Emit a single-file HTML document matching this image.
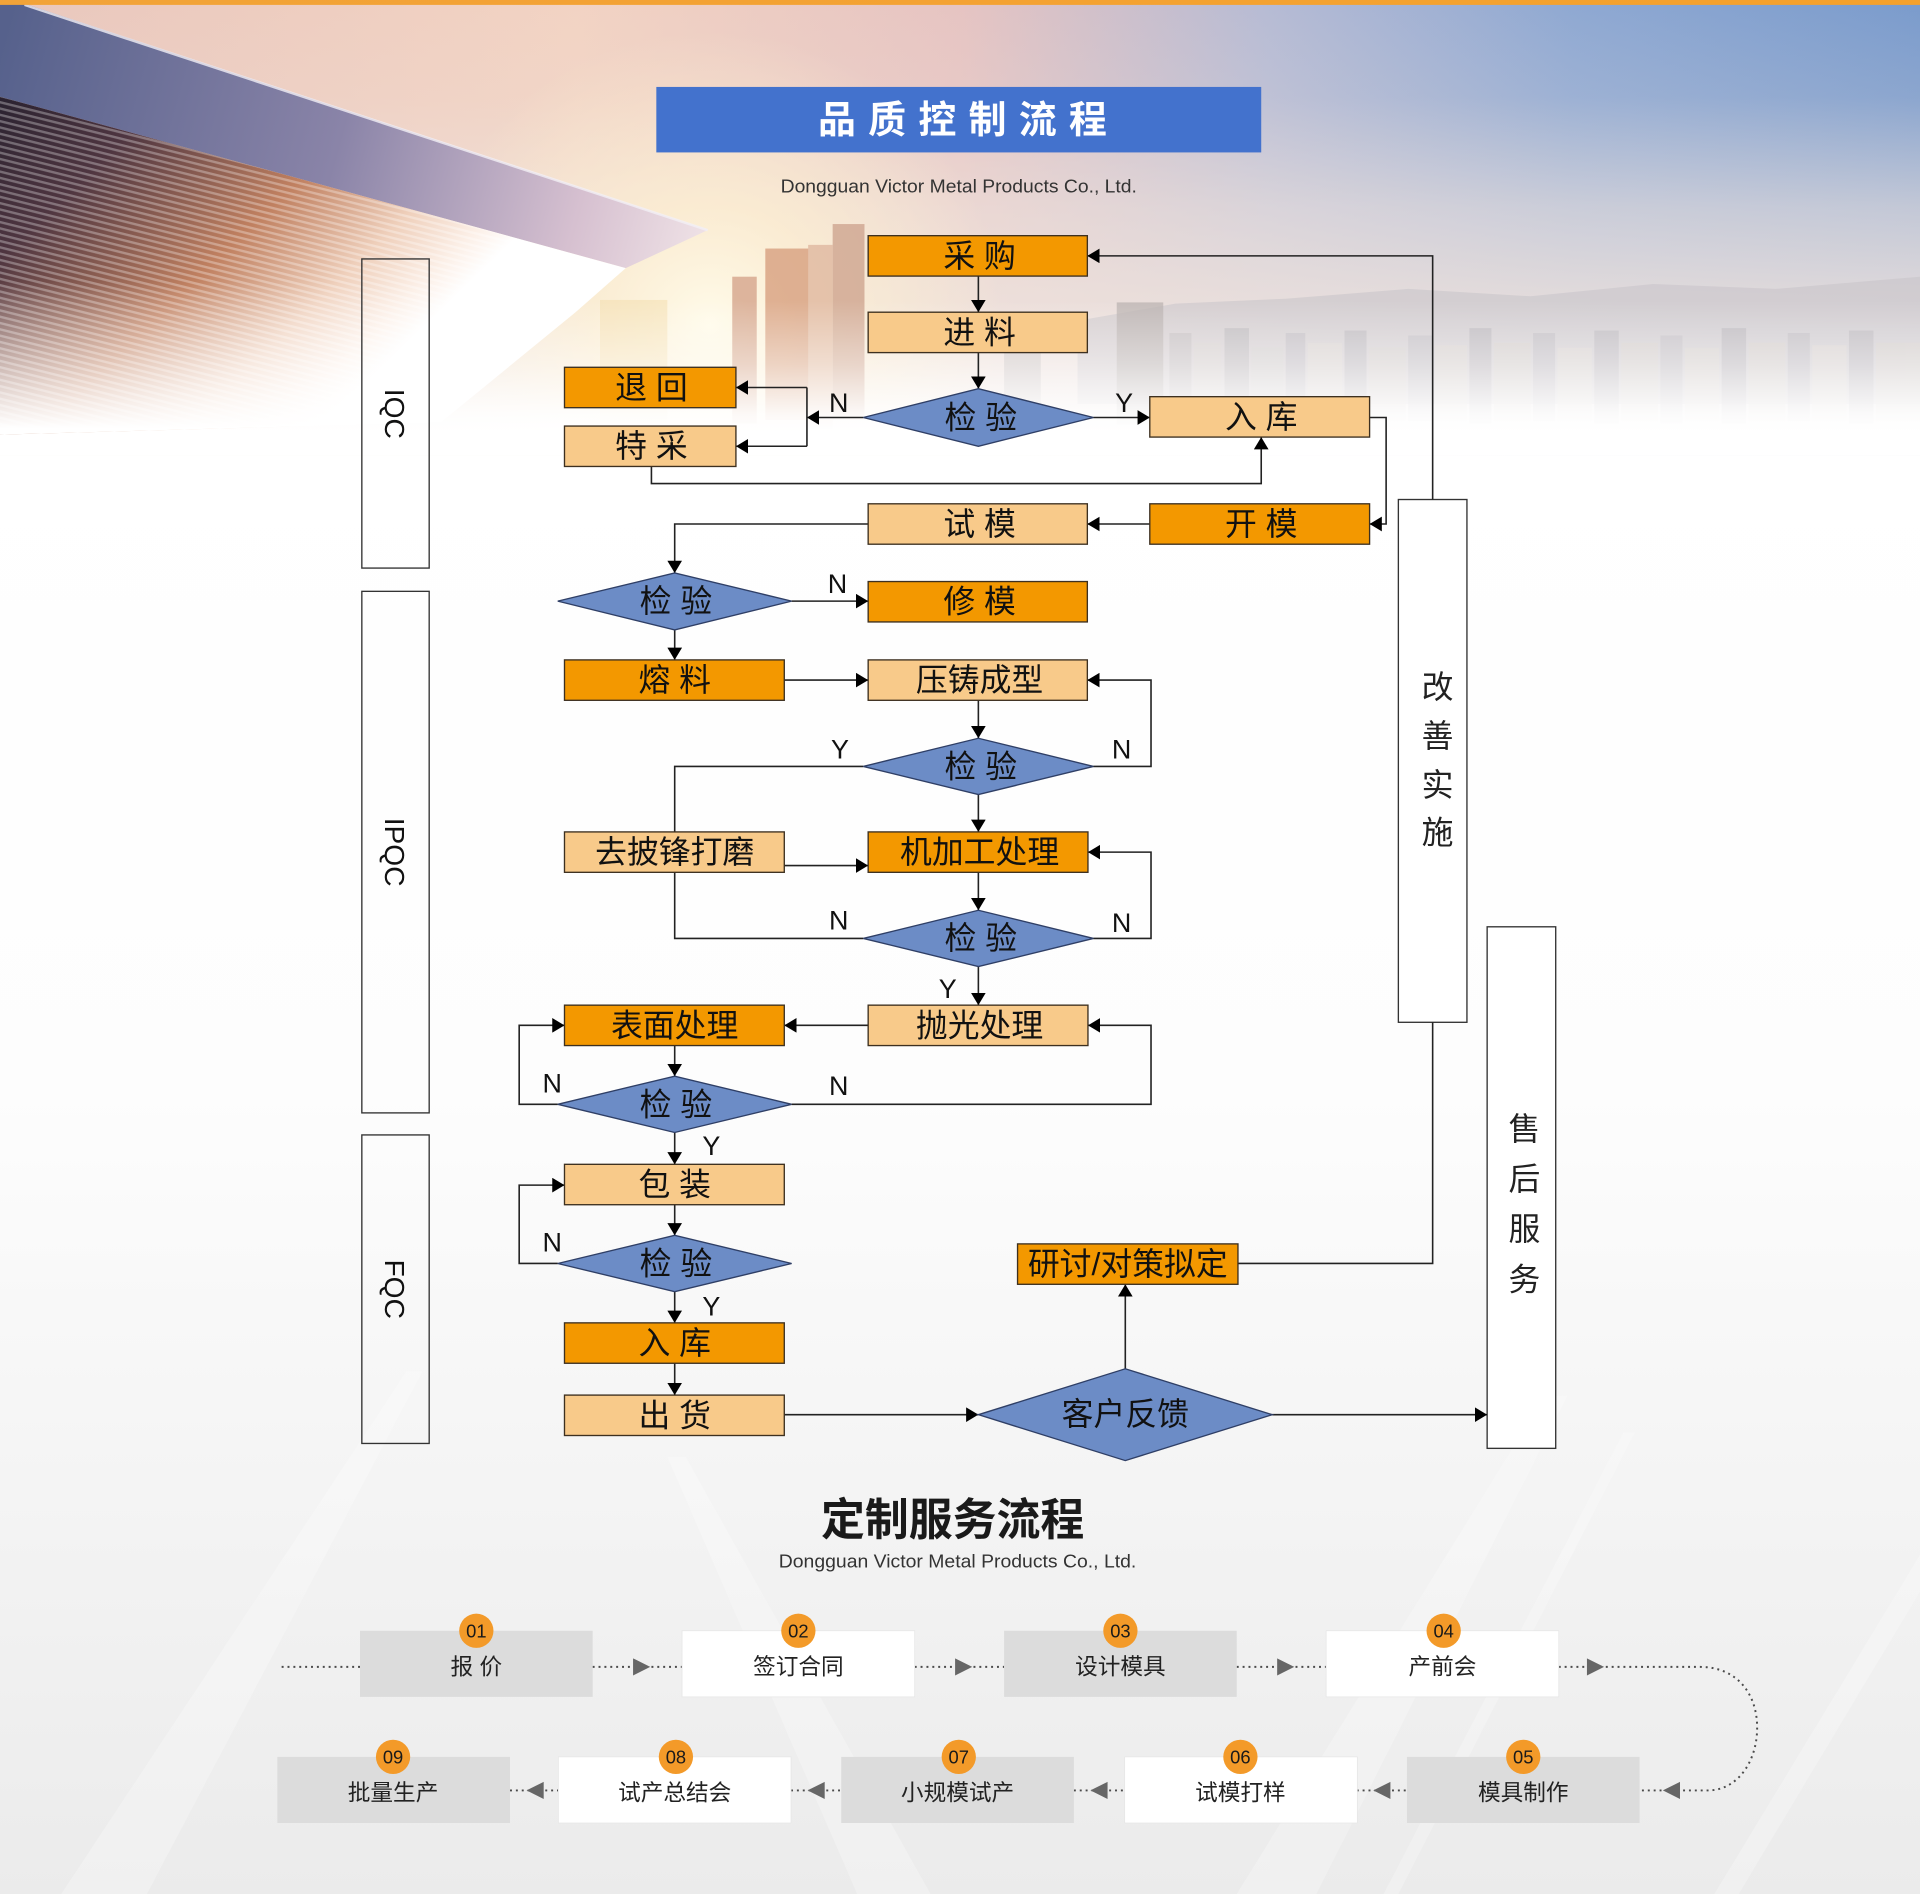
<!DOCTYPE html>
<html><head><meta charset="utf-8">
<style>
html,body{margin:0;padding:0;background:#fff;}
svg{display:block;}
text{font-family:"Liberation Sans","Noto Sans CJK SC",sans-serif;}
.o{fill:#f39800;stroke:#3d3020;stroke-width:1.1;}
.l{fill:#f8ca8a;stroke:#3d3020;stroke-width:1.1;}
.d{fill:#6c8cc6;stroke:#2f3f66;stroke-width:1.1;}
.c{fill:none;stroke:#222;stroke-width:1.3;}
.ca{fill:none;stroke:#222;stroke-width:1.3;marker-end:url(#ar);}
.t{font-size:26px;fill:#111;text-anchor:middle;dominant-baseline:central;}
.yn{font-size:22px;fill:#111;text-anchor:middle;dominant-baseline:central;}
.v{font-size:26px;fill:#222;text-anchor:middle;dominant-baseline:central;}
.qc{font-size:23px;fill:#111;text-anchor:middle;dominant-baseline:central;}
.bx{font-size:18.5px;fill:#222;text-anchor:middle;dominant-baseline:central;}
.num{font-size:15px;fill:#1a1a1a;text-anchor:middle;dominant-baseline:central;}
.dot{fill:none;stroke:#4a4a4a;stroke-width:1.6;stroke-dasharray:1.6 3.2;}
</style></head><body>
<svg width="1920" height="1894" viewBox="0 0 1568 1547" preserveAspectRatio="none" xmlns="http://www.w3.org/2000/svg">
<defs>
 <linearGradient id="low" x1="0" y1="360" x2="0" y2="1547" gradientUnits="userSpaceOnUse">
  <stop offset="0" stop-color="#ffffff"/>
  <stop offset="0.45" stop-color="#fdfdfd"/>
  <stop offset="0.72" stop-color="#f4f4f4"/>
  <stop offset="1" stop-color="#ebebeb"/>
 </linearGradient>
 <linearGradient id="sky" x1="0" y1="0" x2="1568" y2="0" gradientUnits="userSpaceOnUse">
  <stop offset="0" stop-color="#e9c7bd"/>
  <stop offset="0.3" stop-color="#f2d3c3"/>
  <stop offset="0.5" stop-color="#e6c4c2"/>
  <stop offset="0.66" stop-color="#b6bbd4"/>
  <stop offset="0.82" stop-color="#8ea8d2"/>
  <stop offset="1" stop-color="#7a9bcc"/>
 </linearGradient>
 <linearGradient id="beige" x1="0" y1="0" x2="0" y2="360" gradientUnits="userSpaceOnUse">
  <stop offset="0" stop-color="#efe3dd" stop-opacity="0"/>
  <stop offset="0.22" stop-color="#efe3dd" stop-opacity="0.15"/>
  <stop offset="0.47" stop-color="#efe3dd" stop-opacity="0.62"/>
  <stop offset="0.67" stop-color="#efe3dd" stop-opacity="0.85"/>
  <stop offset="1" stop-color="#f3ebe7" stop-opacity="0.9"/>
 </linearGradient>
 <linearGradient id="wfade" x1="0" y1="0" x2="0" y2="372" gradientUnits="userSpaceOnUse">
  <stop offset="0" stop-color="#fff" stop-opacity="0"/>
  <stop offset="0.66" stop-color="#fff" stop-opacity="0"/>
  <stop offset="0.8" stop-color="#fff" stop-opacity="0.45"/>
  <stop offset="0.91" stop-color="#fff" stop-opacity="0.92"/>
  <stop offset="0.95" stop-color="#fff" stop-opacity="1"/>
  <stop offset="1" stop-color="#fff" stop-opacity="1"/>
 </linearGradient>
 <radialGradient id="sun" cx="580" cy="265" r="240" gradientUnits="userSpaceOnUse">
  <stop offset="0" stop-color="#fffbea" stop-opacity="1"/>
  <stop offset="0.4" stop-color="#fff2d2" stop-opacity="0.7"/>
  <stop offset="1" stop-color="#fff2d2" stop-opacity="0"/>
 </radialGradient>
 <linearGradient id="slab" x1="0" y1="40" x2="576" y2="200" gradientUnits="userSpaceOnUse">
  <stop offset="0" stop-color="#56618c"/>
  <stop offset="0.48" stop-color="#8a84a8"/>
  <stop offset="0.82" stop-color="#d6c0d0"/>
  <stop offset="1" stop-color="#efe2e6"/>
 </linearGradient>
 <linearGradient id="under" x1="0" y1="80" x2="260" y2="350" gradientUnits="userSpaceOnUse">
  <stop offset="0" stop-color="#2a2230"/>
  <stop offset="0.25" stop-color="#4e3540"/>
  <stop offset="0.58" stop-color="#c08060"/>
  <stop offset="0.8" stop-color="#efd0bc"/>
  <stop offset="0.93" stop-color="#fcf0e8"/>
  <stop offset="1" stop-color="#ffffff"/>
 </linearGradient>
 <linearGradient id="ufade" x1="0" y1="230" x2="0" y2="350" gradientUnits="userSpaceOnUse">
  <stop offset="0" stop-color="#fff" stop-opacity="0"/>
  <stop offset="0.6" stop-color="#fff" stop-opacity="0.6"/>
  <stop offset="1" stop-color="#fff" stop-opacity="1"/>
 </linearGradient>
 <pattern id="str" width="30" height="5" patternUnits="userSpaceOnUse" patternTransform="rotate(14)">
  <rect width="30" height="2" fill="#fff" opacity="0.3"/>
 </pattern>
 <linearGradient id="bar" x1="0" y1="0" x2="1568" y2="0" gradientUnits="userSpaceOnUse">
  <stop offset="0" stop-color="#f2a338"/>
  <stop offset="1" stop-color="#f5a12c"/>
 </linearGradient>
 <marker id="ar" markerWidth="10" markerHeight="12" refX="10" refY="6" orient="auto" markerUnits="userSpaceOnUse">
  <path d="M0,0L10,6L0,12z" fill="#000"/>
 </marker>
</defs>

<!-- backgrounds -->
<rect x="0" y="0" width="1568" height="1547" fill="url(#low)"/>
<g fill="#fff" opacity="0.25">
 <polygon points="1010,1547 1075,1547 1280,1140 1262,1140"/>
 <polygon points="1130,1547 1142,1547 1335,1170 1326,1170"/>
 <polygon points="50,1547 120,1547 345,1120 332,1120"/>
 <polygon points="700,1547 760,1547 560,1190 545,1190"/>
 <polygon points="1400,1547 1420,1547 1568,1300 1568,1270"/>
</g>
<rect x="0" y="0" width="1568" height="372" fill="url(#sky)"/>
<rect x="0" y="0" width="1568" height="372" fill="url(#beige)"/>
<rect x="0" y="0" width="1568" height="372" fill="url(#sun)"/>
<!-- skyline -->
<path d="M880,262 L960,248 L1050,244 L1150,236 L1250,242 L1350,232 L1450,236 L1568,226 L1568,330 L880,330 Z" fill="#c6c2c8" opacity="0.55"/>
<g opacity="0.8">
 <rect x="490" y="245" width="55" height="100" fill="#f3dca8" opacity="0.6"/>
 <rect x="598" y="226" width="20" height="120" fill="#d6a58c"/>
 <rect x="625" y="203" width="37" height="140" fill="#d8a080"/>
 <rect x="660" y="200" width="20" height="150" fill="#e0b8a0"/>
 <rect x="680" y="183" width="26" height="160" fill="#cfa590"/>
 <rect x="820" y="262" width="30" height="90" fill="#b8b2b4" opacity="0.6"/>
 <rect x="912" y="247" width="38" height="100" fill="#b8b0ae" opacity="0.9"/>
</g>
<g opacity="0.7">
 <rect x="955" y="272" width="18" height="70" fill="#c4bec0"/>
 <rect x="975" y="280" width="22" height="62" fill="#d8d2d0"/>
 <rect x="1000" y="268" width="20" height="75" fill="#bcb8bc"/>
 <rect x="1022" y="284" width="26" height="60" fill="#d4d0d0"/>
 <rect x="1050" y="272" width="16" height="72" fill="#c0bcc2"/>
 <rect x="1068" y="280" width="28" height="64" fill="#dcd6d2"/>
 <rect x="1098" y="270" width="18" height="75" fill="#bcb8be"/>
 <rect x="1118" y="284" width="30" height="60" fill="#d6d0ce"/>
 <rect x="1150" y="274" width="20" height="70" fill="#c2bec4"/>
 <rect x="1172" y="282" width="26" height="62" fill="#dad4d0"/>
 <rect x="1200" y="268" width="18" height="78" fill="#bab6bc"/>
 <rect x="1220" y="280" width="30" height="64" fill="#d6d0cc"/>
 <rect x="1252" y="272" width="18" height="72" fill="#c0bcc2"/>
 <rect x="1272" y="284" width="28" height="60" fill="#dcd6d2"/>
 <rect x="1302" y="270" width="20" height="76" fill="#bcb8be"/>
 <rect x="1324" y="280" width="30" height="64" fill="#d6d0cc"/>
 <rect x="1356" y="274" width="18" height="72" fill="#c2bec4"/>
 <rect x="1376" y="284" width="28" height="60" fill="#dad4d0"/>
 <rect x="1406" y="268" width="20" height="78" fill="#bab6bc"/>
 <rect x="1428" y="280" width="30" height="64" fill="#d6d0cc"/>
 <rect x="1460" y="272" width="18" height="72" fill="#c0bcc2"/>
 <rect x="1480" y="282" width="28" height="62" fill="#dcd6d2"/>
 <rect x="1510" y="270" width="20" height="76" fill="#bcb8be"/>
 <rect x="1532" y="280" width="36" height="64" fill="#d6d0cc"/>
</g>
<rect x="0" y="0" width="1568" height="372" fill="url(#wfade)"/>
<!-- building -->
<polygon points="0,3 20,3 578,188 511,219 0,79" fill="url(#slab)"/>
<line x1="20" y1="4" x2="578" y2="188" stroke="#f3f0f6" stroke-width="2" opacity="0.8"/>
<polygon points="0,79 511,219 470,255 360,345 0,355" fill="url(#under)"/>
<polygon points="0,79 511,219 470,255 360,345 0,355" fill="url(#str)"/>
<polygon points="0,79 511,219 470,255 360,345 0,355" fill="url(#ufade)"/>
<rect x="0" y="0" width="1568" height="4" fill="url(#bar)"/>

<!-- title -->
<rect x="536" y="71" width="494" height="53.5" fill="#4372cd"/>
<text x="668" y="99" font-size="31" font-weight="bold" fill="#fff" letter-spacing="10" dominant-baseline="central">品质控制流程</text>
<text x="783" y="152" font-size="15" fill="#333" text-anchor="middle" dominant-baseline="central" textLength="291" lengthAdjust="spacingAndGlyphs">Dongguan Victor Metal Products Co., Ltd.</text>

<!-- side label boxes -->
<rect x="295.5" y="211.5" width="55" height="252.5" fill="none" stroke="#333" stroke-width="1.1"/>
<rect x="295.5" y="483" width="55" height="426" fill="none" stroke="#333" stroke-width="1.1"/>
<rect x="295.5" y="927" width="55" height="252" fill="none" stroke="#333" stroke-width="1.1"/>
<text class="qc" transform="translate(322,338) rotate(90)">IQC</text>
<text class="qc" transform="translate(322,696) rotate(90)">IPQC</text>
<text class="qc" transform="translate(322,1053) rotate(90)">FQC</text>

<rect x="1142" y="408" width="56" height="427" fill="#fff" stroke="#333" stroke-width="1.1"/>
<rect x="1214.5" y="757" width="56" height="426" fill="#fff" stroke="#333" stroke-width="1.1"/>
<text class="v" x="1174" y="561">改</text>
<text class="v" x="1174" y="601">善</text>
<text class="v" x="1174" y="641">实</text>
<text class="v" x="1174" y="680">施</text>
<text class="v" x="1245" y="922">售</text>
<text class="v" x="1245" y="963">后</text>
<text class="v" x="1245" y="1004">服</text>
<text class="v" x="1245" y="1045">务</text>

<!-- connectors -->
<path class="ca" d="M799,225.5V255"/>
<path class="ca" d="M799,288V317.5"/>
<path class="ca" d="M705,341H659"/>
<path class="c" d="M659,316.5V364.5"/>
<path class="ca" d="M659,316.5H601"/>
<path class="ca" d="M659,364.5H601"/>
<path class="ca" d="M532,381V395H1030V357"/>
<path class="ca" d="M893,341H939"/>
<path class="ca" d="M1118.5,341H1132V428H1118.5"/>
<path class="ca" d="M939,428H888"/>
<path class="ca" d="M709,428H551V468"/>
<path class="ca" d="M646.5,491H709"/>
<path class="ca" d="M551,514.5V539"/>
<path class="ca" d="M640.5,555.5H709"/>
<path class="ca" d="M799,572V603"/>
<path class="ca" d="M893,626H940V555.5H888"/>
<path class="c" d="M705,626H551V679.5"/>
<path class="ca" d="M799,649V679.5"/>
<path class="ca" d="M640.5,707H709"/>
<path class="c" d="M551,712.5V766.5H705"/>
<path class="ca" d="M799,712.5V743.5"/>
<path class="ca" d="M893,766.5H940V696H888.5"/>
<path class="ca" d="M799,789.5V821"/>
<path class="ca" d="M709,837.5H640.5"/>
<path class="ca" d="M551,854V879"/>
<path class="ca" d="M455.5,902H424V837.5H461"/>
<path class="ca" d="M646.5,902H940V837.5H888.5"/>
<path class="ca" d="M551,925V951"/>
<path class="ca" d="M551,984V1009"/>
<path class="ca" d="M455.5,1032H424V968H461"/>
<path class="ca" d="M551,1055V1080.5"/>
<path class="ca" d="M551,1113.5V1139.5"/>
<path class="ca" d="M640.5,1155.5H799"/>
<path class="ca" d="M919,1118V1049"/>
<path class="c" d="M1011,1032H1170V835"/>
<path class="ca" d="M1170,408V209H888"/>
<path class="ca" d="M1039,1155.5H1214.5"/>

<!-- boxes -->
<rect class="o" x="709" y="192.5" width="179" height="33"/><text class="t" x="800" y="209">采 购</text>
<rect class="l" x="709" y="255" width="179" height="33"/><text class="t" x="800" y="271.5">进 料</text>
<rect class="o" x="461" y="300" width="140" height="33"/><text class="t" x="532" y="316.5">退 回</text>
<rect class="l" x="461" y="348" width="140" height="33"/><text class="t" x="532" y="364.5">特 采</text>
<rect class="l" x="939" y="324" width="179.5" height="33"/><text class="t" x="1030" y="340.5">入 库</text>
<rect class="o" x="939" y="411.5" width="179.5" height="33"/><text class="t" x="1030" y="428">开 模</text>
<rect class="l" x="709" y="411.5" width="179" height="33"/><text class="t" x="800" y="428">试 模</text>
<rect class="o" x="709" y="475" width="179" height="33"/><text class="t" x="800" y="491.5">修 模</text>
<rect class="o" x="461" y="539" width="179.5" height="33"/><text class="t" x="551" y="555.5">熔 料</text>
<rect class="l" x="709" y="539" width="179" height="33"/><text class="t" x="800" y="555.5">压铸成型</text>
<rect class="l" x="461" y="679.5" width="179.5" height="33"/><text class="t" x="551" y="696">去披锋打磨</text>
<rect class="o" x="709" y="679.5" width="179.5" height="33"/><text class="t" x="800" y="696">机加工处理</text>
<rect class="o" x="461" y="821" width="179.5" height="33"/><text class="t" x="551" y="837.5">表面处理</text>
<rect class="l" x="709" y="821" width="179.5" height="33"/><text class="t" x="800" y="837.5">抛光处理</text>
<rect class="l" x="461" y="951" width="179.5" height="33"/><text class="t" x="551" y="967.5">包 装</text>
<rect class="o" x="461" y="1080.5" width="179.5" height="33"/><text class="t" x="551" y="1097">入 库</text>
<rect class="l" x="461" y="1139.5" width="179.5" height="33"/><text class="t" x="551" y="1156">出 货</text>
<rect class="o" x="831" y="1016" width="180" height="33"/><text class="t" x="921" y="1032.5">研讨/对策拟定</text>

<!-- diamonds -->
<polygon class="d" points="705,341 799,317.5 893,341 799,364.5"/><text class="t" x="801" y="341">检 验</text>
<polygon class="d" points="455.5,491 551,468 646.5,491 551,514.5"/><text class="t" x="552" y="491">检 验</text>
<polygon class="d" points="705,626 799,603 893,626 799,649"/><text class="t" x="801" y="626">检 验</text>
<polygon class="d" points="705,766.5 799,743.5 893,766.5 799,789.5"/><text class="t" x="801" y="766">检 验</text>
<polygon class="d" points="455.5,902 551,879 646.5,902 551,925"/><text class="t" x="552" y="902">检 验</text>
<polygon class="d" points="455.5,1032 551,1009 646.5,1032 551,1055"/><text class="t" x="552" y="1032">检 验</text>
<polygon class="d" points="799,1155.5 919,1118 1039,1155.5 919,1193"/><text class="t" x="919" y="1155">客户反馈</text>

<!-- Y/N labels -->
<text class="yn" x="685" y="329">N</text>
<text class="yn" x="918" y="329">Y</text>
<text class="yn" x="684" y="477">N</text>
<text class="yn" x="686" y="612">Y</text>
<text class="yn" x="916" y="612">N</text>
<text class="yn" x="685" y="752">N</text>
<text class="yn" x="916" y="754">N</text>
<text class="yn" x="774" y="808">Y</text>
<text class="yn" x="451" y="885">N</text>
<text class="yn" x="685" y="887">N</text>
<text class="yn" x="581" y="936">Y</text>
<text class="yn" x="451" y="1015">N</text>
<text class="yn" x="581" y="1067">Y</text>

<!-- custom service flow -->
<text x="778" y="1242" font-size="36" font-weight="bold" fill="#1a1a1a" text-anchor="middle" dominant-baseline="central" textLength="215" lengthAdjust="spacingAndGlyphs">定制服务流程</text>
<text x="782" y="1275" font-size="15" fill="#333" text-anchor="middle" dominant-baseline="central" textLength="292" lengthAdjust="spacingAndGlyphs">Dongguan Victor Metal Products Co., Ltd.</text>

<!-- dotted connectors -->
<path class="dot" d="M230,1361.5H294"/>
<path class="dot" d="M484,1361.5H557"/>
<path class="dot" d="M747,1361.5H820"/>
<path class="dot" d="M1010,1361.5H1083"/>
<path class="dot" d="M1273,1361.5H1388C1420,1361.5 1435,1385 1435,1411C1435,1440 1418,1462.4 1395,1462.4H1339"/>
<path class="dot" d="M1108,1462.4H1149"/>
<path class="dot" d="M877,1462.4H918.6"/>
<path class="dot" d="M646,1462.4H687"/>
<path class="dot" d="M416.5,1462.4H456"/>
<g fill="#666">
 <polygon points="517,1354.5 531,1361.5 517,1368.5"/>
 <polygon points="780,1354.5 794,1361.5 780,1368.5"/>
 <polygon points="1043,1354.5 1057,1361.5 1043,1368.5"/>
 <polygon points="1296,1354.5 1310,1361.5 1296,1368.5"/>
 <polygon points="1372,1455.4 1358,1462.4 1372,1469.4"/>
 <polygon points="1135.5,1455.4 1121.5,1462.4 1135.5,1469.4"/>
 <polygon points="904.5,1455.4 890.5,1462.4 904.5,1469.4"/>
 <polygon points="673.5,1455.4 659.5,1462.4 673.5,1469.4"/>
 <polygon points="444,1455.4 430,1462.4 444,1469.4"/>
</g>

<!-- step boxes -->
<g>
 <rect x="294" y="1332" width="190" height="54" fill="#dcdcdc"/>
 <rect x="557" y="1332" width="190" height="54" fill="#fff" stroke="#e6e6e6" stroke-width="0.6"/>
 <rect x="820" y="1332" width="190" height="54" fill="#dcdcdc"/>
 <rect x="1083" y="1332" width="190" height="54" fill="#fff" stroke="#e6e6e6" stroke-width="0.6"/>
 <rect x="226.5" y="1435" width="190" height="54" fill="#dcdcdc"/>
 <rect x="456" y="1435" width="190" height="54" fill="#fff" stroke="#e6e6e6" stroke-width="0.6"/>
 <rect x="687" y="1435" width="190" height="54" fill="#dcdcdc"/>
 <rect x="918.5" y="1435" width="190" height="54" fill="#fff" stroke="#e6e6e6" stroke-width="0.6"/>
 <rect x="1149" y="1435" width="190" height="54" fill="#dcdcdc"/>
</g>
<text class="bx" x="389" y="1361">报 价</text>
<text class="bx" x="652" y="1361">签订合同</text>
<text class="bx" x="915" y="1361">设计模具</text>
<text class="bx" x="1178" y="1361">产前会</text>
<text class="bx" x="321" y="1464">批量生产</text>
<text class="bx" x="551" y="1464">试产总结会</text>
<text class="bx" x="782" y="1464">小规模试产</text>
<text class="bx" x="1013" y="1464">试模打样</text>
<text class="bx" x="1244" y="1464">模具制作</text>
<g fill="#f39a29">
 <circle cx="389" cy="1332" r="14"/>
 <circle cx="652" cy="1332" r="14"/>
 <circle cx="915" cy="1332" r="14"/>
 <circle cx="1179" cy="1332" r="14"/>
 <circle cx="1244" cy="1435" r="14"/>
 <circle cx="1013" cy="1435" r="14"/>
 <circle cx="783" cy="1435" r="14"/>
 <circle cx="552" cy="1435" r="14"/>
 <circle cx="321" cy="1435" r="14"/>
</g>
<text class="num" x="389" y="1332">01</text>
<text class="num" x="652" y="1332">02</text>
<text class="num" x="915" y="1332">03</text>
<text class="num" x="1179" y="1332">04</text>
<text class="num" x="1244" y="1435">05</text>
<text class="num" x="1013" y="1435">06</text>
<text class="num" x="783" y="1435">07</text>
<text class="num" x="552" y="1435">08</text>
<text class="num" x="321" y="1435">09</text>
</svg>
</body></html>
